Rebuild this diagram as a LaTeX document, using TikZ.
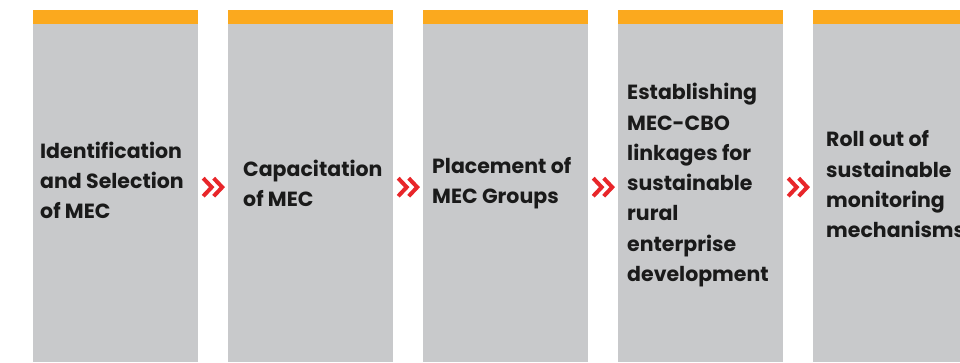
\documentclass[tikz,border=0pt]{standalone}
\usepackage{fontspec}
\setmainfont{Poppins}
\usetikzlibrary{calc}
\definecolor{barorange}{HTML}{FBA91E}
\definecolor{colgrey}{HTML}{C8C9CB}
\definecolor{chevred}{HTML}{E8262A}
\definecolor{txtdark}{HTML}{1A1A1A}
\begin{document}
\begin{tikzpicture}[x=1pt,y=-1pt,
    col/.style={fill=colgrey, minimum width=165pt, minimum height=338pt, anchor=north west, inner sep=0pt},
    lbl/.style={align=left, anchor=west, inner sep=0pt, text=txtdark, font=\bfseries\fontsize{20.5}{30.3}\selectfont},
    chev/.style={draw=chevred, line width=4pt, miter limit=10}]
        \useasboundingbox (0,0) rectangle (960,362);
        \clip (0,0) rectangle (960,362);
        % columns
        \node[col] (c1) at (33,24) {};
        \node[col] (c2) at (228,24) {};
        \node[col] (c3) at (423,24) {};
        \node[col] (c4) at (618,24) {};
        \node[col] (c5) at (813,24) {};
        \foreach \c in {c1,c2,c3,c4,c5}
            \fill[barorange] (\c.north west) rectangle ++(165,-14);
        % labels
        \node[lbl] (t1) at ($(c1.west)+(7,-13)$) {Identification\\and Selection\\of MEC};
        \node[lbl] (t2) at ($(c2.west)+(15,-10)$) {Capacitation\\of MEC};
        \node[lbl] (t3) at ($(c3.west)+(9,-10)$) {Placement of\\MEC Groups};
        \node[lbl] (t4) at ($(c4.west)+(9,-8)$) {Establishing\\MEC-CBO\\linkages for\\sustainable\\rural\\enterprise\\development};
        \node[lbl] (t5) at ($(c5.west)+(13,-9)$) {Roll out of\\sustainable\\monitoring\\mechanisms};
        % chevrons
        \foreach \a/\b in {c1/c2,c2/c3,c3/c4,c4/c5} {
            \coordinate (m) at ($(\a.east)!0.5!(\b.west)+(0,-6)$);
            \draw[chev] ($(m)+(-10,-9)$) -- ($(m)+(-1.5,0)$) -- ($(m)+(-10,9)$);
            \draw[chev] ($(m)+(0.5,-9)$) -- ($(m)+(9,0)$) -- ($(m)+(0.5,9)$);
        }
        \end{tikzpicture}
\end{document}
